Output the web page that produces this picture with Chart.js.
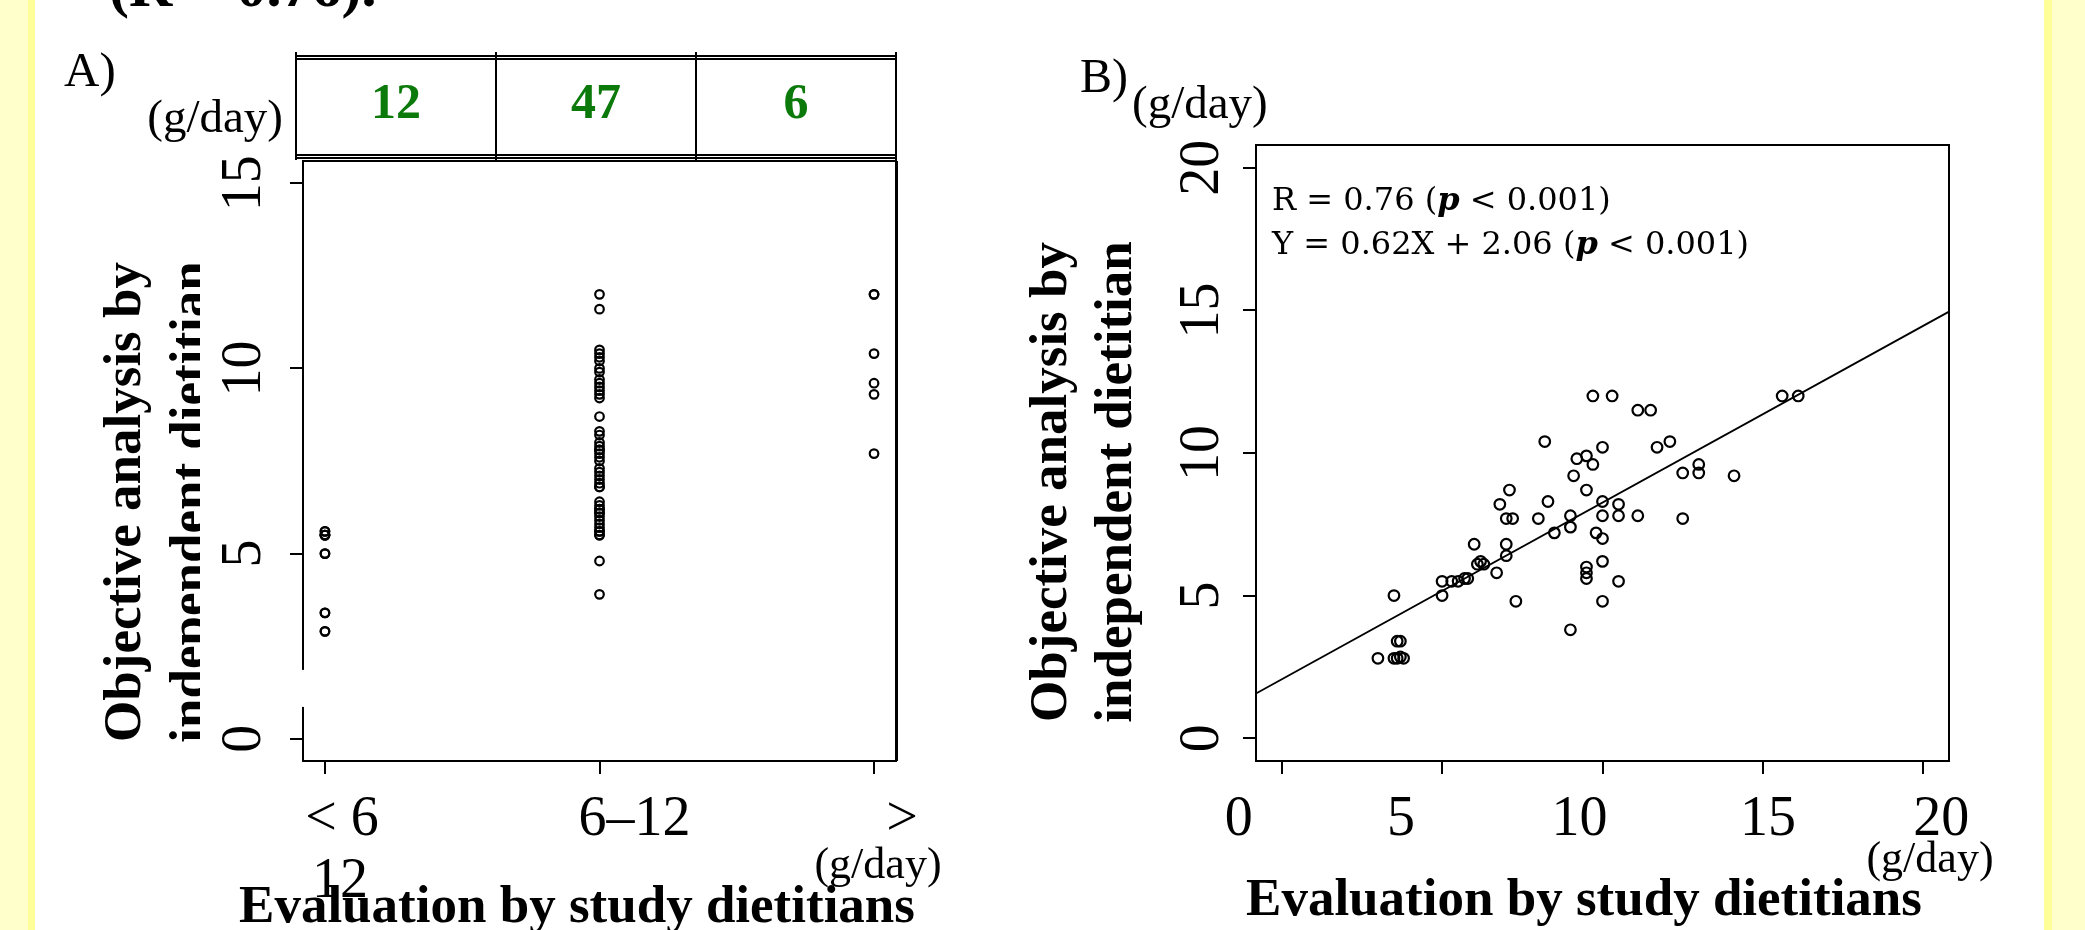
<!DOCTYPE html>
<html><head><meta charset="utf-8">
<script src="https://cdn.jsdelivr.net/npm/chart.js@4.4.1/dist/chart.umd.min.js"></script>
<style>
html,body{margin:0;padding:0;background:#fff;width:2085px;height:930px;overflow:hidden;}
#wrapA{position:absolute;left:0;top:0;width:1000px;height:930px;}
#wrapB{position:absolute;left:1000px;top:0;width:1085px;height:930px;}
.strip{position:absolute;top:0;height:930px;z-index:5;}
</style></head><body>
<div class="strip" style="left:0;width:28px;background:#FFFFCC"></div>
<div class="strip" style="left:28px;width:7px;background:#FFFF99"></div>
<div class="strip" style="left:2044px;width:8px;background:#FFFF99"></div>
<div class="strip" style="left:2052px;width:33px;background:#FFFFCC"></div>
<div id="wrapA"><canvas id="cA" width="1000" height="930"></canvas></div>
<div id="wrapB"><canvas id="cB" width="1085" height="930"></canvas></div>
<script>
// ---------------- data ----------------
const categoriesA = ['< 6', '6–12', '>'];
const categoriesWrap = '12';
const groupCounts = [12, 47, 6];
const groupLow = [5.6, 5.6, 5.5, 5.5, 5.5, 5.5, 5.0, 5.0, 3.4, 3.4, 2.9, 2.9];
const groupMid = [12.0, 11.6, 10.5, 10.4, 10.3, 10.2, 10.0, 9.9, 9.7, 9.6, 9.5, 9.4, 9.3, 9.2,
  8.7, 8.3, 8.2, 8.0, 7.9, 7.8, 7.8, 7.7, 7.6, 7.5, 7.3, 7.2, 7.1, 7.0, 6.9, 6.8, 6.8,
  6.4, 6.3, 6.2, 6.2, 6.1, 6.1, 6.0, 5.9, 5.8, 5.7, 5.6, 5.6, 5.5, 5.5, 4.8, 3.9];
const groupHigh = [12.0, 12.0, 10.4, 9.6, 9.3, 7.7];
const yTicksA = [0, 5, 10, 15];

const studyX = [9.7, 10.3, 11.1, 11.5, 15.6, 16.1, 8.2, 10.0, 11.7, 12.1,
  9.2, 9.5, 9.7, 9.1, 12.5, 13.0, 13.0, 14.1, 7.1, 9.5,
  6.8, 8.3, 10.0, 10.5, 7.0, 7.2, 8.0, 9.0, 10.0, 10.5,
  11.1, 12.5, 8.5, 9.0, 9.8, 10.0, 6.0, 7.0, 7.0, 6.1,
  6.2, 6.3, 6.7, 10.0, 9.5, 9.5, 9.5, 10.5, 5.0, 5.3,
  5.5, 5.7, 5.8, 5.0, 3.5, 7.3, 10.0, 9.0, 3.6, 3.7,
  3.0, 3.5, 3.6, 3.7, 3.8];
const objectiveY = [12.0, 12.0, 11.5, 11.5, 12.0, 12.0, 10.4, 10.2, 10.2, 10.4,
  9.8, 9.9, 9.6, 9.2, 9.3, 9.6, 9.3, 9.2, 8.7, 8.7,
  8.2, 8.3, 8.3, 8.2, 7.7, 7.7, 7.7, 7.8, 7.8, 7.8,
  7.8, 7.7, 7.2, 7.4, 7.2, 7.0, 6.8, 6.8, 6.4, 6.1,
  6.2, 6.1, 5.8, 6.2, 6.0, 5.8, 5.6, 5.5, 5.5, 5.5,
  5.5, 5.6, 5.6, 5.0, 5.0, 4.8, 4.8, 3.8, 3.4, 3.4,
  2.8, 2.8, 2.8, 2.85, 2.8];
const xTicksB = [0, 5, 10, 15, 20];
const yTicksB = [0, 5, 10, 15, 20];
const regSlope = 0.62, regIntercept = 2.06;
const annotLine1 = ['R = 0.76 (', 'p', ' < 0.001)'];
const annotLine2 = ['Y = 0.62X + 2.06 (', 'p', ' < 0.001)'];
const unitLabel = '(g/day)';
const xTitle = 'Evaluation by study dietitians';
const yTitle = ['Objective analysis by', 'independent dietitian'];
const captionTop = '(R = 0.76).';

// ---------------- style / layout ----------------
const SERIF = "'Liberation Serif','Times New Roman',serif";
const SERIF2 = "'DejaVu Serif','Liberation Serif',serif";
const GREEN = '#0b7a0b';

function text(ctx, s, x, y, font, align, color) {
  ctx.save();
  ctx.font = font; ctx.fillStyle = color || '#000';
  ctx.textAlign = align || 'left'; ctx.textBaseline = 'alphabetic';
  ctx.fillText(s, x, y);
  ctx.restore();
}
function vtitle(ctx, lines, x1, x2, cy, clipRight) {
  ctx.save();
  if (clipRight) { ctx.beginPath(); ctx.rect(0, 0, clipRight, 930); ctx.clip(); }
  ctx.font = 'bold 53px ' + SERIF; ctx.fillStyle = '#000';
  ctx.textAlign = 'center'; ctx.textBaseline = 'alphabetic';
  ctx.translate(x1, cy); ctx.rotate(-Math.PI / 2);
  ctx.fillText(lines[0], 0, 0);
  ctx.fillText(lines[1], 0, x2 - x1);
  ctx.restore();
}
function hline(ctx, x1, x2, y, w) { ctx.beginPath(); ctx.lineWidth = w; ctx.moveTo(x1, y); ctx.lineTo(x2, y); ctx.stroke(); }
function vline(ctx, x, y1, y2, w) { ctx.beginPath(); ctx.lineWidth = w; ctx.moveTo(x, y1); ctx.lineTo(x, y2); ctx.stroke(); }

const tickGrid = { drawOnChartArea: false, tickLength: 13, tickColor: '#000', tickWidth: 2, lineWidth: 2, color: '#000' };

// ---------- Panel A ----------
const labelShiftA = [17, 35, 28];
const decoA = {
  id: 'decoA',
  afterDraw(chart) {
    const ctx = chart.ctx, ca = chart.chartArea, xs = chart.scales.x, ys = chart.scales.y;
    ctx.save();
    ctx.strokeStyle = '#000';
    ctx.lineWidth = 2;
    ctx.strokeRect(ca.left, ca.top, ca.right - ca.left, ca.bottom - ca.top);
    vline(ctx, ca.right + 1, ca.top, ca.bottom, 2);
    // axis break on the left border
    ctx.fillStyle = '#fff';
    const gTop = ys.getPixelForValue(1.86), gBot = ys.getPixelForValue(0.86);
    ctx.fillRect(ca.left - 3, gTop, 6, gBot - gTop);
    // table of counts
    const tl = 296, tr = 896, cols = [296, 496, 696, 896];
    hline(ctx, tl, tr, 56, 1.8); hline(ctx, tl, tr, 59, 1.8);
    hline(ctx, tl, tr, 155, 1.8); hline(ctx, tl, tr, 158, 1.8);
    cols.forEach(c => vline(ctx, c, 52, 160, 2));
    groupCounts.forEach((n, i) => text(ctx, String(n), (cols[i] + cols[i + 1]) / 2, 118, 'bold 50px ' + SERIF, 'center', GREEN));
    ctx.restore();
    text(ctx, captionTop, 109, 6, 'bold 60px ' + SERIF, 'left');
    text(ctx, 'A)', 64, 86, '49px ' + SERIF, 'left');
    text(ctx, unitLabel, 283, 132, '47px ' + SERIF, 'right');
    // x tick labels
    categoriesA.forEach((c, i) => text(ctx, c, xs.getPixelForValue(i) + labelShiftA[i], 835, '56px ' + SERIF, 'center'));
    text(ctx, unitLabel, 878, 878, '44px ' + SERIF, 'center');
    text(ctx, xTitle, 577, 922, 'bold 53px ' + SERIF, 'center');
    text(ctx, categoriesWrap, 340, 897, '56px ' + SERIF, 'center');
    vtitle(ctx, yTitle, 140, 206, 502, 200);
  }
};

const ptsA = [groupLow, groupMid, groupHigh].flatMap((arr, gi) => arr.map(v => ({ x: gi, y: v })));

new Chart(document.getElementById('cA'), {
  type: 'scatter',
  data: { datasets: [{ data: ptsA, pointStyle: 'circle', pointRadius: 4.3, pointHoverRadius: 4.3,
    borderColor: '#000', backgroundColor: 'rgba(0,0,0,0)', pointBorderWidth: 2.2, borderWidth: 2.2 }] },
  options: {
    responsive: false, animation: false, devicePixelRatio: 1,
    layout: { padding: { left: 0, top: 161, right: 104, bottom: 60 } },
    plugins: { legend: { display: false }, tooltip: { enabled: false } },
    events: [],
    scales: {
      x: { type: 'linear', min: -0.08, max: 2.08,
        afterBuildTicks: s => { s.ticks = categoriesA.map((c, i) => ({ value: i })); },
        afterFit: s => { s.height = 930 - 60 - 761; },
        ticks: { display: false }, grid: tickGrid, border: { display: false } },
      y: { type: 'linear', min: -0.6, max: 15.6,
        afterBuildTicks: s => { s.ticks = yTicksA.map(v => ({ value: v })); },
        afterFit: s => { s.width = 303; },
        ticks: { display: true, color: '#000', font: { family: SERIF, size: 56 }, minRotation: 90, maxRotation: 90,
          crossAlign: 'center', padding: 17, callback: v => String(v) },
        grid: tickGrid, border: { display: false } }
    }
  },
  plugins: [decoA]
});

// ---------- Panel B ----------
const labelShiftB = [-43, -41, -23, 5, 18];
function annot(ctx, parts, x, y) {
  ctx.save();
  ctx.textBaseline = 'alphabetic'; ctx.fillStyle = '#000';
  let cx = x;
  parts.forEach((p, i) => {
    ctx.font = (i === 1 ? 'italic bold 32px ' : '32px ') + SERIF2;
    ctx.fillText(p, cx, y);
    cx += ctx.measureText(p).width;
  });
  ctx.restore();
}
const decoB = {
  id: 'decoB',
  afterDraw(chart) {
    const ctx = chart.ctx, ca = chart.chartArea, xs = chart.scales.x;
    ctx.save();
    ctx.strokeStyle = '#000'; ctx.lineWidth = 2;
    ctx.strokeRect(ca.left, ca.top, ca.right - ca.left, ca.bottom - ca.top);
    ctx.restore();
    text(ctx, 'B)', 80, 92, '48px ' + SERIF, 'left');
    text(ctx, unitLabel, 132, 118, '47px ' + SERIF, 'left');
    annot(ctx, annotLine1, 272, 210);
    annot(ctx, annotLine2, 272, 254);
    xTicksB.forEach((v, i) => text(ctx, String(v), xs.getPixelForValue(v) + labelShiftB[i], 835, '56px ' + SERIF, 'center'));
    text(ctx, unitLabel, 930, 872, '44px ' + SERIF, 'center');
    text(ctx, xTitle, 584, 915, 'bold 53px ' + SERIF, 'center');
    vtitle(ctx, yTitle, 66, 131, 482, 0);
  }
};

const ptsB = studyX.map((x, i) => ({ x: x, y: objectiveY[i] }));
const xMinB = -0.8, xMaxB = 20.8;
const regLine = [xMinB, xMaxB].map(x => ({ x: x, y: regSlope * x + regIntercept }));

new Chart(document.getElementById('cB'), {
  type: 'scatter',
  data: { datasets: [
    { type: 'line', data: regLine, borderColor: '#000', borderWidth: 1.8, pointRadius: 0, fill: false },
    { data: ptsB, pointStyle: 'circle', pointRadius: 5.3, pointHoverRadius: 5.3,
      borderColor: '#000', backgroundColor: 'rgba(0,0,0,0)', pointBorderWidth: 2.2, borderWidth: 2.2 }
  ] },
  options: {
    responsive: false, animation: false, devicePixelRatio: 1,
    layout: { padding: { left: 0, top: 145, right: 136, bottom: 60 } },
    plugins: { legend: { display: false }, tooltip: { enabled: false } },
    events: [],
    scales: {
      x: { type: 'linear', min: xMinB, max: xMaxB,
        afterBuildTicks: s => { s.ticks = xTicksB.map(v => ({ value: v })); },
        afterFit: s => { s.height = 930 - 60 - 761; },
        ticks: { display: false }, grid: tickGrid, border: { display: false } },
      y: { type: 'linear', min: -0.8, max: 20.8,
        afterBuildTicks: s => { s.ticks = yTicksB.map(v => ({ value: v })); },
        afterFit: s => { s.width = 256; },
        ticks: { display: true, color: '#000', font: { family: SERIF, size: 56 }, minRotation: 90, maxRotation: 90,
          crossAlign: 'center', padding: 12, callback: v => String(v) },
        grid: tickGrid, border: { display: false } }
    }
  },
  plugins: [decoB]
});
</script>
</body></html>
